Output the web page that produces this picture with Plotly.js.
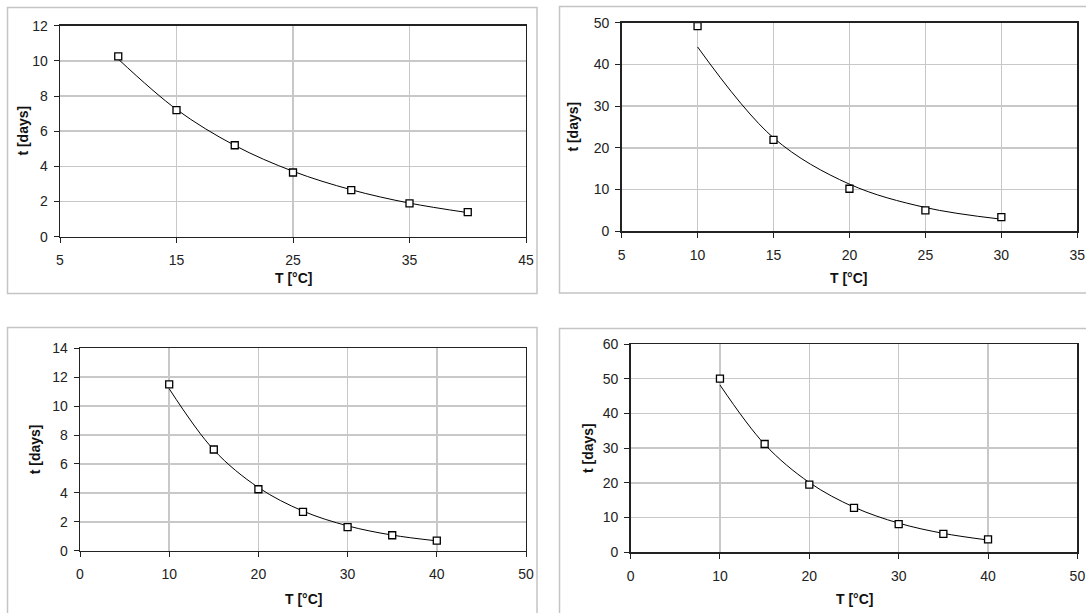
<!DOCTYPE html>
<html>
<head>
<meta charset="utf-8">
<script src="https://cdn.plot.ly/plotly-3.0.1.min.js"></script>
<style>
html,body{margin:0;padding:0;background:#fff;}
#chart{width:1086px;height:613px;}
</style>
</head>
<body>
<div id="chart"></div>
<script>
// ---- data ----
const T1 = [10, 15, 20, 25, 30, 35, 40];
const t1 = [10.25, 7.2, 5.2, 3.65, 2.65, 1.9, 1.4];
const fit1 = [10.1, 7.24, 5.19, 3.72, 2.67, 1.91, 1.37];

const T2 = [10, 15, 20, 25, 30];
const t2 = [49.2, 21.9, 10.2, 5.0, 3.4];
const fit2 = [44.2, 22.4, 11.3, 5.7, 2.9];

const T3 = [10, 15, 20, 25, 30, 35, 40];
const t3 = [11.5, 7.0, 4.25, 2.68, 1.63, 1.07, 0.69];
const fit3 = [11.2, 6.97, 4.37, 2.74, 1.72, 1.08, 0.68];

const T4 = [10, 15, 20, 25, 30, 35, 40];
const t4 = [50.0, 31.2, 19.5, 12.8, 8.1, 5.3, 3.7];
const fit4 = [48.2, 31.1, 20.1, 13.0, 8.4, 5.45, 3.53];

const xTitle = 'T [°C]';
const yTitle = 't [days]';

// ---- layout helpers ----
const W = 1086, H = 613;
const fx = p => p / W;
const fy = p => 1 - p / H;

const FONT = 'Arial, "Liberation Sans", sans-serif';

const panels = [
  {x: T1, y: t1, fit: fit1, xr: [5, 45], xd: 10, yr: [0, 12], yd: 2,
   frame: [60, 526, 25.7, 236.7], border: [7.5, 537, 7.5, 293.5],
   xt: [293, 277.5], yt: [22.6, 131]},
  {x: T2, y: t2, fit: fit2, xr: [5, 35], xd: 5, yr: [0, 50], yd: 10,
   frame: [621.6, 1077.3, 22.7, 231.3], border: [559.5, 1095, 6.5, 293],
   xt: [849, 277.5], yt: [572.6, 127]},
  {x: T3, y: t3, fit: fit3, xr: [0, 50], xd: 10, yr: [0, 14], yd: 2,
   frame: [80, 526, 348.3, 550.7], border: [7.5, 537, 327.5, 625],
   xt: [303, 598.5], yt: [34.8, 449.5]},
  {x: T4, y: t4, fit: fit4, xr: [0, 50], xd: 10, yr: [0, 60], yd: 10,
   frame: [630.6, 1077.4, 344, 552.3], border: [559.5, 1095, 328.5, 625],
   xt: [854, 598.5], yt: [588, 448]}
];

const data = [];
const layout = {
  width: W, height: H,
  margin: {l: 0, r: 0, t: 0, b: 0},
  paper_bgcolor: '#ffffff',
  plot_bgcolor: '#ffffff',
  showlegend: false,
  font: {family: FONT, size: 14, color: '#222'},
  shapes: [],
  annotations: []
};

panels.forEach((p, i) => {
  const n = i === 0 ? '' : String(i + 1);
  const xa = 'x' + n, ya = 'y' + n;
  data.push({
    x: p.x, y: p.fit, xaxis: xa, yaxis: ya, type: 'scatter', mode: 'lines',
    line: {color: '#000', width: 1, shape: 'spline', smoothing: 1},
    hoverinfo: 'skip'
  });
  data.push({
    x: p.x, y: p.y, xaxis: xa, yaxis: ya, type: 'scatter', mode: 'markers',
    marker: {symbol: 'square', size: 7, color: '#fff', line: {color: '#000', width: 1.3}},
    cliponaxis: false
  });
  const common = {
    showgrid: true, gridcolor: '#c8c8c8', gridwidth: 1.5,
    zeroline: false, showline: true, linecolor: '#222', linewidth: 1.4,
    mirror: true, ticks: 'outside', ticklen: 5, tickwidth: 1, tickcolor: '#222',
    tickfont: {family: FONT, size: 14, color: '#222'}, fixedrange: true
  };
  layout['xaxis' + n] = Object.assign({}, common, {
    domain: [fx(p.frame[0]), fx(p.frame[1])],
    range: p.xr, dtick: p.xd, tick0: p.xr[0], anchor: ya,
    ticklabelstandoff: 5
  });
  layout['yaxis' + n] = Object.assign({}, common, {
    domain: [fy(p.frame[3]), fy(p.frame[2])],
    range: p.yr, dtick: p.yd, tick0: 0, anchor: xa,
    ticklabelstandoff: 3
  });
  layout.shapes.push({
    type: 'rect', xref: 'paper', yref: 'paper',
    x0: fx(p.border[0]), x1: fx(p.border[1]),
    y0: fy(p.border[3]), y1: fy(p.border[2]),
    line: {color: '#c4c4c4', width: 1.5}, fillcolor: 'rgba(0,0,0,0)', layer: 'below'
  });
  layout.annotations.push({
    xref: 'paper', yref: 'paper', x: fx(p.xt[0]), y: fy(p.xt[1]),
    xanchor: 'center', yanchor: 'middle', showarrow: false,
    text: '<b>' + xTitle + '</b>', font: {family: FONT, size: 14, color: '#111'}
  });
  layout.annotations.push({
    xref: 'paper', yref: 'paper', x: fx(p.yt[0]), y: fy(p.yt[1]),
    xanchor: 'center', yanchor: 'middle', showarrow: false, textangle: -90,
    text: '<b>' + yTitle + '</b>', font: {family: FONT, size: 14, color: '#111'}
  });
});

Plotly.newPlot('chart', data, layout, {displayModeBar: false, staticPlot: true});
</script>
</body>
</html>
